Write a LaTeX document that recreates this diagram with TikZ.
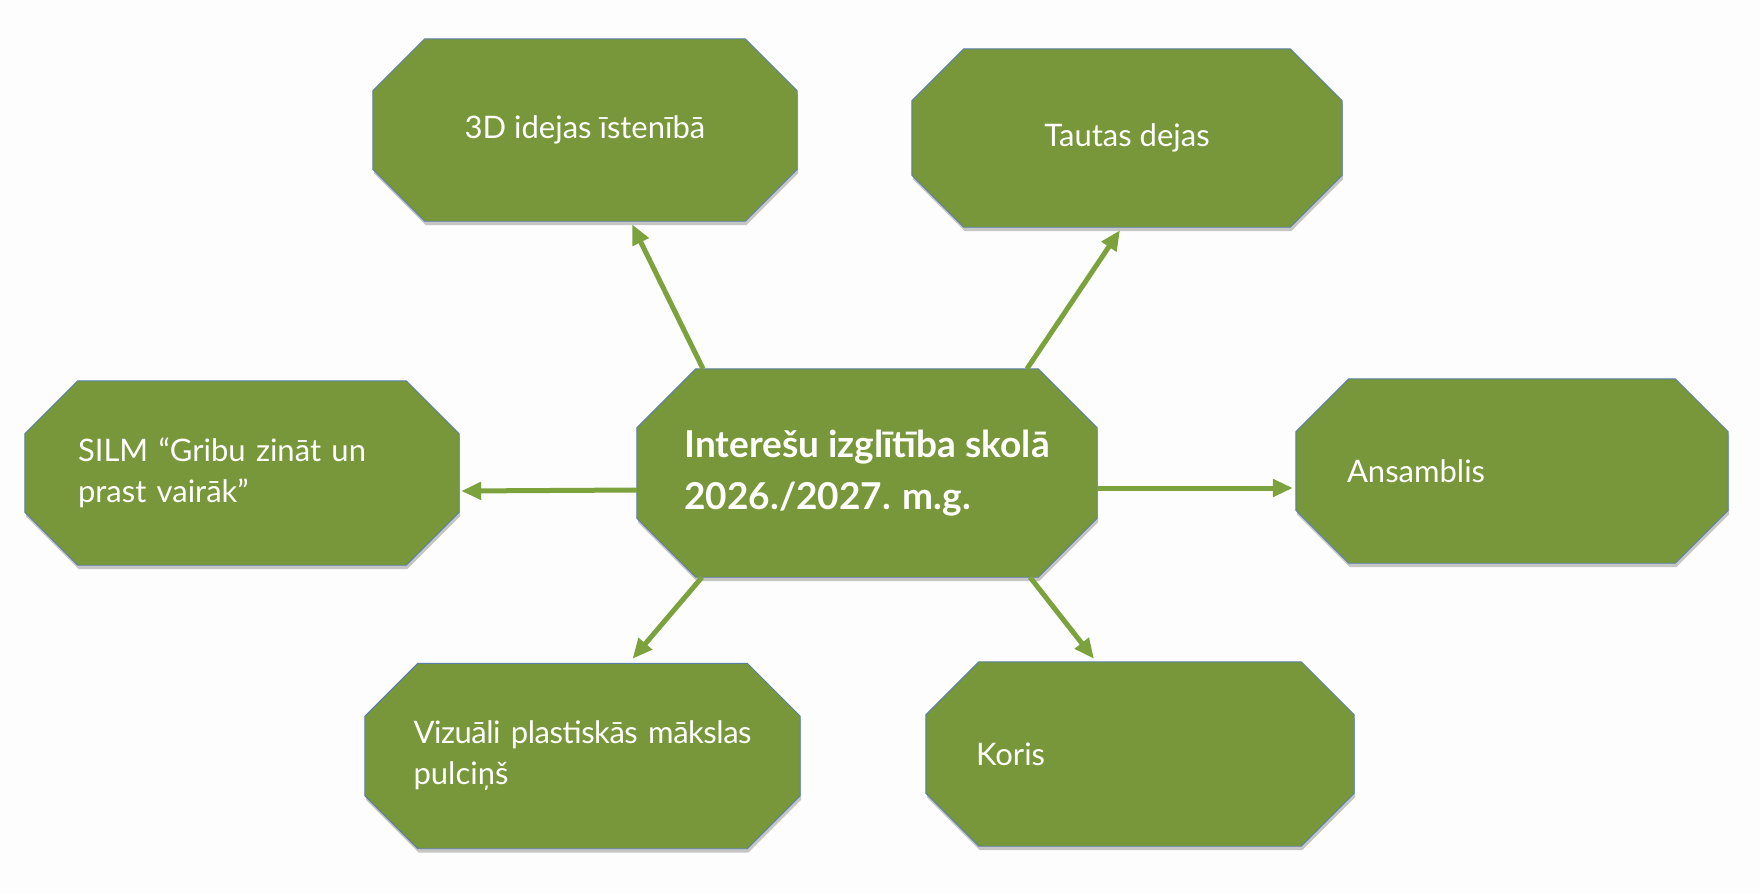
\documentclass[tikz,border=0pt]{standalone}
\usepackage{fontspec}
\setmainfont{Lato}
\usetikzlibrary{arrows.meta,calc,shadows}
\pgfdeclarelayer{background}
\pgfsetlayers{background,main}
\definecolor{boxgreen}{HTML}{77973A}
\definecolor{arrowgreen}{HTML}{7BA23C}
\definecolor{boxedge}{HTML}{5A7FA6}
\definecolor{pagebg}{HTML}{FDFDFD}
\tikzset{
  boxtext/.style={rectangle, draw=none, inner sep=0pt, text=white,
    font=\fontsize{31}{41}\selectfont},
  hubtext/.style={rectangle, draw=none, inner sep=0pt, text=white, align=left,
    font=\fontsize{37}{52}\selectfont\bfseries},
  octfill/.style={fill=boxgreen, draw=boxedge, line width=0.9pt,
    drop shadow={shadow xshift=1pt, shadow yshift=-4pt, opacity=0.22, fill=black}},
  link/.style={draw=arrowgreen, line width=5pt, -{Triangle[length=20pt,width=17pt]}}
}
\newcommand\octof[2]{%
  \begin{pgfonlayer}{background}
    \path[octfill] ($(#1.north west)+(#2,0)$) -- ($(#1.north east)+(-#2,0)$)
      -- ($(#1.north east)+(0,#2)$) -- ($(#1.south east)+(0,-#2)$)
      -- ($(#1.south east)+(-#2,0)$) -- ($(#1.south west)+(#2,0)$)
      -- ($(#1.south west)+(0,-#2)$) -- ($(#1.north west)+(0,#2)$) -- cycle;
  \end{pgfonlayer}}
\begin{document}
\begin{tikzpicture}[x=1pt,y=-1pt]
  \useasboundingbox (0,0) rectangle (1760,894);
  \begin{pgfonlayer}{background}
    \fill[pagebg] (0,0) rectangle (1760,894);
  \end{pgfonlayer}

  \node[boxtext, minimum width=424pt, minimum height=182pt, align=center] (idea) at (585,130) {3D idejas īstenībā};
  \node[boxtext, minimum width=430pt, minimum height=178pt, align=center] (dance) at (1127,138) {Tautas dejas};
  \node[boxtext, minimum width=434pt, minimum height=184pt, text width=328pt, align=left] (silm) at (242,473) {SILM “Gribu zināt un\\prast vairāk”};
  \node[boxtext, minimum width=432pt, minimum height=184pt, text width=330pt, align=left] (ens) at (1512,471) {Ansamblis};
  \node[boxtext, minimum width=435pt, minimum height=185pt, text width=338pt, align=left] (viz) at (582.5,756) {\mbox{\addfontfeatures{LetterSpace=-1.5}Vizuāli plastiskās mākslas}\\pulciņš};
  \node[boxtext, minimum width=428pt, minimum height=184pt, text width=328pt, align=left] (choir) at (1140,754) {Koris};
  \node[hubtext, minimum width=460pt, minimum height=208pt] (hub) at (867,473) {Interešu izglītība skolā\\2026./2027. m.g.};

  \octof{idea}{52}
  \octof{dance}{52}
  \octof{silm}{53}
  \octof{ens}{53}
  \octof{viz}{53}
  \octof{choir}{53}
  \octof{hub}{59}

  \draw[link] ($(hub.north)+(-164,0)$) -- ($(idea.south)+(47,3)$);
  \draw[link] ($(hub.north)+(160,0)$) -- ($(dance.south)+(-7,3)$);
  \draw[link] ($(hub.west)+(0,17)$) -- ($(silm.east)+(2,18)$);
  \draw[link] ($(hub.east)+(0,15)$) -- ($(ens.west)+(-3,17)$);
  \draw[link] ($(hub.south)+(-165,0)$) -- ($(viz.north)+(50,-4.5)$);
  \draw[link] ($(hub.south)+(163,0)$) -- ($(choir.north)+(-46,-3)$);
\end{tikzpicture}
\end{document}
